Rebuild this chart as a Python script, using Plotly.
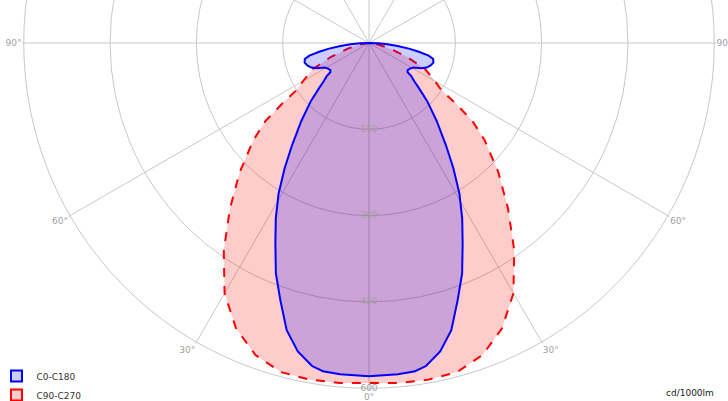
import numpy as np
import plotly.graph_objects as go

# Luminous intensity (cd/1000lm) vs. gamma angle (deg), symmetric curves
gamma_c0 = [0, 5, 8, 10, 13, 16, 19, 22, 25, 28, 31, 34, 37, 41, 45, 48, 50, 52, 53,
            55, 58, 61, 64, 67, 70, 73, 76, 78, 80, 82, 84, 86, 88, 90]
cd_c0 = [579, 578, 576, 570, 550, 519, 473, 432, 385, 345, 305, 262, 222, 179, 143, 116,
         102, 93, 84, 82, 84, 88, 100, 109, 114, 117, 115, 106, 88, 70, 50, 32, 16, 0]

gamma_c90 = [0, 5, 10, 15, 20, 25, 30, 35, 40, 45, 50, 53, 55, 57, 60, 65, 70, 75, 80, 85, 90]
cd_c90 = [591, 593, 594, 592, 577, 547, 502, 440, 376, 318, 262, 225, 185, 150, 132, 108,
          70, 38, 17, 6, 0]

radial_ticks = [150, 300, 450, 600]
radial_labels = ["150", "300", "450", "600"]
angle_ticks = [0, 30, 60, 90, 120, 150, 180, 210, 240, 270, 300, 330]
angle_labels = ["0°", "30°", "60°", "90°", "", "", "", "", "", "90°", "60°", "30°"]


def mirror(g, v):
    g = np.asarray(g, float)
    v = np.asarray(v, float)
    theta = np.concatenate([-g[::-1], g[1:]])
    r = np.concatenate([v[::-1], v[1:]])
    return theta, r


th90, r90 = mirror(gamma_c90, cd_c90)
th0, r0 = mirror(gamma_c0, cd_c0)

fig = go.Figure()
fig.add_trace(go.Scatterpolar(
    theta=th90, r=r90, mode="lines", fill="toself", name="C90-C270",
    line=dict(color="#ff0000", width=2, dash="dash"),
    fillcolor="rgba(255,0,0,0.2)", showlegend=False))
fig.add_trace(go.Scatterpolar(
    theta=th0, r=r0, mode="lines", fill="toself", name="C0-C180",
    line=dict(color="#0000ff", width=2),
    fillcolor="rgba(0,0,255,0.2)", showlegend=False))
fig.add_trace(go.Scatterpolar(
    theta=[0] * len(radial_ticks), r=radial_ticks, mode="text", text=radial_labels,
    textfont=dict(color="#a0a0a0", size=9, family="DejaVu Sans"),
    showlegend=False, hoverinfo="skip"))
# legend entries
fig.add_trace(go.Scatterpolar(
    theta=[None], r=[None], mode="markers", name="C0-C180",
    marker=dict(symbol="square", size=11, color="#ccccff",
                line=dict(color="#0000ff", width=2))))
fig.add_trace(go.Scatterpolar(
    theta=[None], r=[None], mode="markers", name="C90-C270",
    marker=dict(symbol="square", size=11, color="#ffcccc",
                line=dict(color="#ff0000", width=2))))

# full polar disc; its upper part lies above the visible window (as in the reference)
HIDDEN = 304
fig.update_layout(
    width=728, height=401 + HIDDEN,
    margin=dict(l=22, r=12, t=0, b=11, autoexpand=False),
    paper_bgcolor="white",
    font=dict(family="DejaVu Sans", size=9, color="#444"),
    polar=dict(
        bgcolor="white",
        domain=dict(x=[0, 1], y=[0, 1]),
        radialaxis=dict(range=[0, 603], tickmode="array", tickvals=radial_ticks,
                        showticklabels=False, showline=False, ticks="",
                        gridcolor="#c8c8c8", gridwidth=1, angle=270),
        angularaxis=dict(rotation=270, direction="counterclockwise",
                         tickmode="array", tickvals=angle_ticks, ticktext=angle_labels,
                         ticks="", gridcolor="#c8c8c8", showline=False,
                         tickfont=dict(color="#a0a0a0", size=9, family="DejaVu Sans")),
    ),
    legend=dict(x=-0.0367, y=-0.0282, xanchor="left", yanchor="bottom",
                bgcolor="rgba(0,0,0,0)", itemwidth=30,
                font=dict(size=9, color="#333"), tracegroupgap=0),
    annotations=[dict(text="cd/1000lm", xref="paper", yref="paper", x=1.0, y=-0.0043,
                      xanchor="right", yanchor="middle", showarrow=False,
                      font=dict(size=9, color="#222"))],
)

post = (
    "document.body.style.margin='0px';"
    "document.body.style.overflow='hidden';"
    "var gd=document.getElementsByClassName('plotly-graph-div')[0];"
    "gd.style.marginTop='-%dpx';" % HIDDEN
)
fig.write_html("out.html", config={"displayModeBar": False}, post_script=post)
